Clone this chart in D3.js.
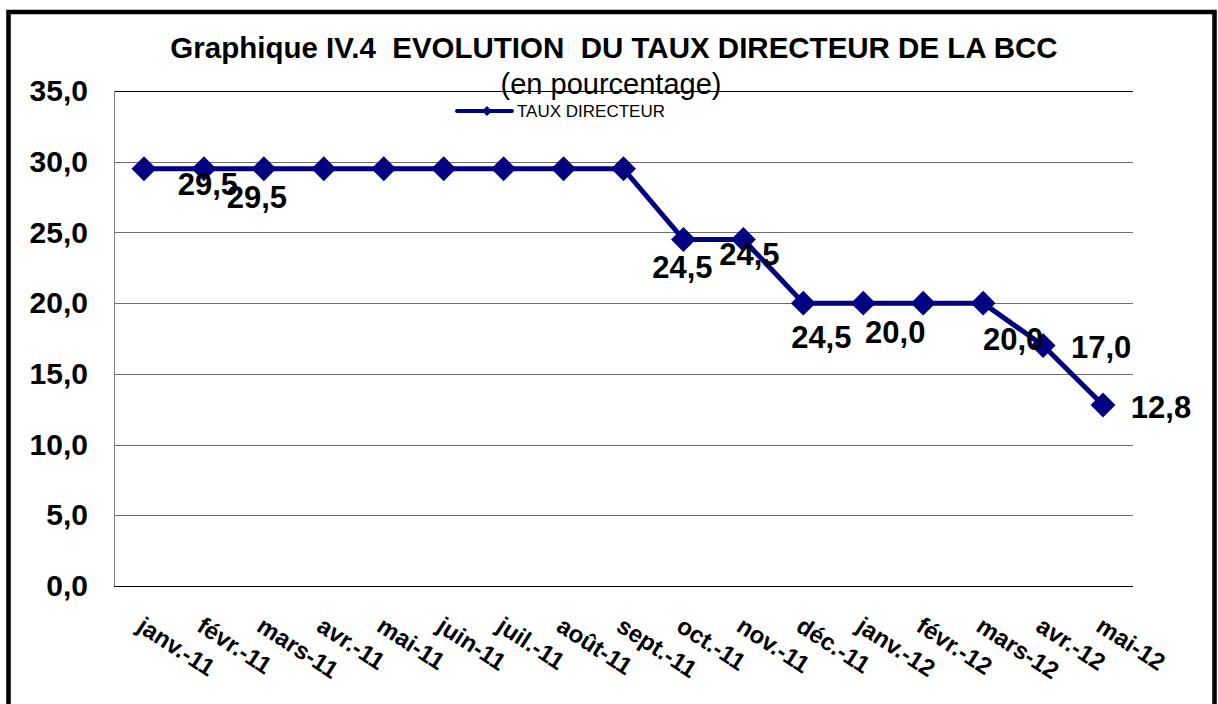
<!DOCTYPE html>
<html>
<head>
<meta charset="utf-8">
<script src="https://cdn.jsdelivr.net/npm/d3@7"></script>
<style>
  body { margin: 0; background: #fff; }
  svg { display: block; font-family: "Liberation Sans", Arial, sans-serif; }
</style>
</head>
<body>
<svg id="chart" width="1218" height="704"></svg>
<script>
// categories (mois) et valeurs du taux directeur
const categories = ["janv.-11", "févr.-11", "mars-11", "avr.-11", "mai-11", "juin-11", "juil.-11", "août-11",
  "sept.-11", "oct.-11", "nov.-11", "déc.-11", "janv.-12", "févr.-12", "mars-12", "avr.-12", "mai-12"];
const tauxDirecteur = [29.5, 29.5, 29.5, 29.5, 29.5, 29.5, 29.5, 29.5, 29.5, 24.5, 24.5, 20.0, 20.0, 20.0, 20.0, 17.0, 12.8];
const yTicks = [0, 5, 10, 15, 20, 25, 30, 35];

// data labels as shown in the original (index of the point + text)
const labelIndex = [1, 2, 9, 10, 11, 12, 14, 15, 16];
const labelText = ["29,5", "29,5", "24,5", "24,5", "24,5", "20,0", "20,0", "17,0", "12,8"];
// manual offsets of those labels (centre x, baseline y) relative to the point
const labelOffsets = [[4, 26], [-7, 39], [-1, 38], [6, 25], [18, 45], [32, 40], [30, 47], [58, 12], [58, 13]];

const plot = {left: 114, right: 1133, top: 91, bottom: 586};
const navy = "#000080";

const svg = d3.select("#chart");

// outer frame
svg.append("rect")
  .attr("x", 8.5).attr("y", 12)
  .attr("width", 1206).attr("height", 730)
  .attr("fill", "none").attr("stroke", "#000").attr("stroke-width", 4.5);

const x = d3.scalePoint().domain(categories).range([plot.left, plot.right]).padding(0.5);
const y = d3.scaleLinear().domain([0, 35]).range([plot.bottom, plot.top]);

const fmt = v => d3.format(".1f")(v).replace(".", ",");

// gridlines
svg.append("g")
  .selectAll("line")
  .data(yTicks)
  .join("line")
    .attr("x1", plot.left).attr("x2", plot.right)
    .attr("y1", d => Math.round(y(d)) + 0.5).attr("y2", d => Math.round(y(d)) + 0.5)
    .attr("stroke", d => (d == 0 || d == 35) ? "#000" : "#6e6e6e")
    .attr("stroke-width", 1);

// left axis line
svg.append("line")
  .attr("x1", plot.left + 0.5).attr("x2", plot.left + 0.5)
  .attr("y1", plot.top).attr("y2", plot.bottom)
  .attr("stroke", "#808080");

// y axis labels
const yAxis = d3.axisLeft(y).tickValues(yTicks).tickFormat(fmt).tickSize(0).tickPadding(26);
const gy = svg.append("g").attr("transform", `translate(${plot.left},0)`).call(yAxis);
gy.select(".domain").remove();
gy.selectAll("text")
  .attr("font-family", "Liberation Sans, Arial, sans-serif")
  .attr("font-size", 30).attr("font-weight", "bold").attr("fill", "#000");

// x axis labels (rotated)
const gx = svg.append("g");
gx.selectAll("text")
  .data(categories)
  .join("text")
    .attr("transform", d => `translate(${x(d) - 8.5},630) rotate(33)`)
    .attr("font-size", 24).attr("font-weight", "bold")
    .text(d => d);

// title
svg.append("text")
  .attr("x", 614).attr("y", 58)
  .attr("text-anchor", "middle")
  .attr("font-size", 29.5).attr("font-weight", "bold")
  .style("white-space", "pre")
  .text("Graphique IV.4  EVOLUTION  DU TAUX DIRECTEUR DE LA BCC");

svg.append("text")
  .attr("x", 611).attr("y", 94)
  .attr("text-anchor", "middle")
  .attr("font-size", 29)
  .text("(en pourcentage)");

// legend
const lg = svg.append("g").attr("transform", "translate(457,111)");
lg.append("line").attr("x1", 0).attr("x2", 55).attr("y1", 0).attr("y2", 0)
  .attr("stroke", navy).attr("stroke-width", 4).attr("stroke-linecap", "round");
lg.append("path").attr("d", d3.symbol(d3.symbolSquare, 50)())
  .attr("transform", "translate(30,0) rotate(45)").attr("fill", navy);
lg.append("text").attr("x", 60).attr("y", 6)
  .attr("font-size", 17).text("TAUX DIRECTEUR");

// line
const line = d3.line().x((d, i) => x(categories[i])).y(d => y(d));
svg.append("path")
  .datum(tauxDirecteur)
  .attr("d", line)
  .attr("fill", "none").attr("stroke", navy).attr("stroke-width", 5)
  .attr("stroke-linejoin", "round");

// markers
svg.append("g")
  .selectAll("path")
  .data(tauxDirecteur)
  .join("path")
    .attr("d", d3.symbol(d3.symbolSquare, 310)())
    .attr("transform", (d, i) => `translate(${x(categories[i])},${y(d)}) rotate(45)`)
    .attr("fill", navy);

// data labels
svg.append("g")
  .selectAll("text")
  .data(labelIndex)
  .join("text")
    .attr("x", (d, k) => x(categories[d]) + labelOffsets[k][0])
    .attr("y", (d, k) => y(tauxDirecteur[d]) + labelOffsets[k][1])
    .attr("text-anchor", "middle")
    .attr("font-size", 31).attr("font-weight", "bold")
    .text((d, k) => labelText[k]);
</script>
</body>
</html>
